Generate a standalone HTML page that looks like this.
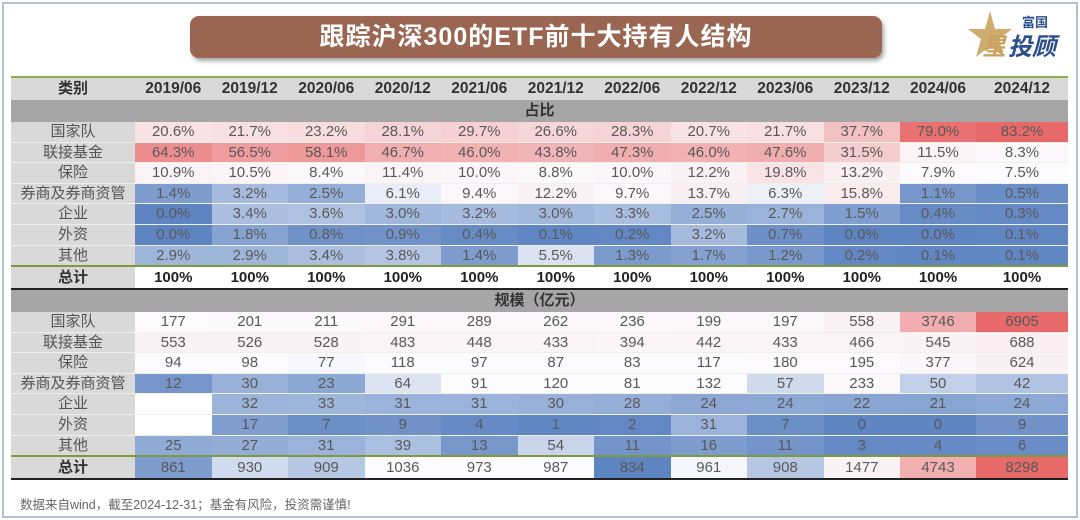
<!DOCTYPE html>
<html><head><meta charset="utf-8">
<style>
html,body{margin:0;padding:0;background:#fff;}
body{width:1080px;height:520px;position:relative;overflow:hidden;font-family:"Liberation Sans","Noto Sans CJK SC",sans-serif;}
#frame{position:absolute;left:2px;top:2px;width:1072px;height:512px;border:2px solid #b3c0d3;}
#title{position:absolute;left:190px;top:16px;width:692px;height:42px;background:#9a6651;border-radius:9px;box-shadow:2px 3px 4px rgba(0,0,0,0.35);color:#fff;font-weight:bold;font-size:25px;line-height:42px;text-align:center;letter-spacing:1px;}
.c{position:absolute;box-sizing:border-box;text-align:center;color:#595959;font-size:15px;white-space:nowrap;}
#footer{position:absolute;left:20px;top:494px;font-size:12.5px;color:#666;}
</style></head>
<body>
<div id="frame"></div>
<div id="title">跟踪沪深300的ETF前十大持有人结构</div>
<svg style="position:absolute;left:960px;top:8px" width="115" height="52">
  <polygon points="30,3 35,21 52,21 39,31 44,49 30,38 16,49 21,31 8,21 25,21" fill="#c9a25e" opacity="0.9"/>
  <text x="62" y="19" font-size="13" font-weight="bold" fill="#2b4f8e" font-family="Liberation Sans, Noto Sans CJK SC, sans-serif">富国</text>
  <text x="22" y="47" font-size="24" font-weight="bold" font-style="italic" fill="#c9a25e" font-family="Liberation Sans, Noto Sans CJK SC, sans-serif">星</text>
  <text x="48" y="47" font-size="24" font-weight="bold" font-style="italic" fill="#2b4f8e" font-family="Liberation Sans, Noto Sans CJK SC, sans-serif">投顾</text>
</svg>
<div id="tbl"></div>
<div id="footer">数据来自wind，截至2024-12-31；基金有风险，投资需谨慎!</div>
<script>
const periods=["2019/06","2019/12","2020/06","2020/12","2021/06","2021/12","2022/06","2022/12","2023/06","2023/12","2024/06","2024/12"];
const categories=["国家队","联接基金","保险","券商及券商资管","企业","外资","其他"];
const shareNational=[20.6,21.7,23.2,28.1,29.7,26.6,28.3,20.7,21.7,37.7,79.0,83.2];
const shareLinked=[64.3,56.5,58.1,46.7,46.0,43.8,47.3,46.0,47.6,31.5,11.5,8.3];
const shareInsurance=[10.9,10.5,8.4,11.4,10.0,8.8,10.0,12.2,19.8,13.2,7.9,7.5];
const shareBroker=[1.4,3.2,2.5,6.1,9.4,12.2,9.7,13.7,6.3,15.8,1.1,0.5];
const shareCorp=[0.0,3.4,3.6,3.0,3.2,3.0,3.3,2.5,2.7,1.5,0.4,0.3];
const shareForeign=[0.0,1.8,0.8,0.9,0.4,0.1,0.2,3.2,0.7,0.0,0.0,0.1];
const shareOther=[2.9,2.9,3.4,3.8,1.4,5.5,1.3,1.7,1.2,0.2,0.1,0.1];
const sizeNational=[177,201,211,291,289,262,236,199,197,558,3746,6905];
const sizeLinked=[553,526,528,483,448,433,394,442,433,466,545,688];
const sizeInsurance=[94,98,77,118,97,87,83,117,180,195,377,624];
const sizeBroker=[12,30,23,64,91,120,81,132,57,233,50,42];
const sizeCorp=[null,32,33,31,31,30,28,24,24,22,21,24];
const sizeForeign=[null,17,7,9,4,1,2,31,7,0,0,9];
const sizeOther=[25,27,31,39,13,54,11,16,11,3,4,6];
const sizeTotal=[861,930,909,1036,973,987,834,961,908,1477,4743,8298];

const shareRows=[shareNational,shareLinked,shareInsurance,shareBroker,shareCorp,shareForeign,shareOther];
const sizeRows=[sizeNational,sizeLinked,sizeInsurance,sizeBroker,sizeCorp,sizeForeign,sizeOther];

const T=document.getElementById('tbl');
const colX=[];for(let i=0;i<10;i++)colX.push(135+i*76.5);colX.push(900,976);
const colW=i=>i<10?76.5:(i==10?76:92);
const L=11,R=1068;
function mix(a,b,t){return 'rgb('+a.map((v,i)=>Math.round(v+(b[i]-v)*t)).join(',')+')';}
const BLUE=[94,132,194],WHITE=[252,252,255],RED=[232,105,106];
function scale(v,min,mid,max){
  if(v==null)return '#fff';
  if(v<=mid)return mix(BLUE,WHITE,Math.max(0,(v-min)/(mid-min)));
  return mix(WHITE,RED,Math.min(1,(v-mid)/(max-mid)));
}
function box(x,y,w,h,bg,txt,name,extra){
  const d=document.createElement('div');d.className='c';
  d.style.left=x+'px';d.style.top=y+'px';d.style.width=w+'px';d.style.height=h+'px';
  d.style.lineHeight=h+'px';d.style.background=bg;
  if(extra)Object.assign(d.style,extra);
  d.textContent=txt;
  
  
  T.appendChild(d);return d;
}
box(L,76,R-L,2,'#8faa4d','','header-top-rule');
box(L,78,135-L,22,'#d9d9d9','类别','header-category',{fontWeight:'bold',color:'#333',fontSize:'15px'});
periods.forEach((p,i)=>box(colX[i],78,colW(i),22,'#d9d9d9',p,'header-'+p.replace('/','-'),{fontWeight:'bold',color:'#333',fontSize:'15.5px'}));
function block(y0,title,rows,fmt,min,mid,max,totals,totalFmt,prefix){
  box(L,y0,R-L,22,'#a6a6a6',title,prefix+'-band',{fontWeight:'bold',color:'#333',fontSize:'15px'});
  const rh=20.6;
  rows.forEach((row,r)=>{
    const y=y0+22+r*rh;
    box(L,y,135-L,rh-1,'#d9d9d9',categories[r],prefix+'-label-'+r,{fontSize:'15px',color:'#555'});
    row.forEach((v,i)=>box(colX[i],y,colW(i),rh-1,scale(v,min,mid,max),v==null?'':fmt(v),prefix+'-cell-'+r+'-'+i,{fontSize:'15px'}));
    box(L,y+rh-1,R-L,1,'#eef1e4','',prefix+'-row-sep-'+r);
  });
  const yt=y0+22+7*rh;
  box(L,yt-1,R-L,2,'#7f9a3d','',prefix+'-total-rule');
  box(L,yt+1,135-L,21,'#d9d9d9','总计',prefix+'-total-label',{fontWeight:'bold',color:'#333',fontSize:'15px'});
  totals.forEach((v,i)=>{
    const bg=totalFmt?scale(v,834,967,8298):'#fff';
    box(colX[i],yt+1,colW(i),21,bg,totalFmt?String(v):'100%',prefix+'-total-'+i,totalFmt?{fontSize:'15px'}:{fontWeight:'bold',color:'#222',fontSize:'15px'});
  });
  box(L,yt+22,R-L,2,'#222','',prefix+'-bottom-rule');
}
block(100,'占比',shareRows,v=>v.toFixed(1)+'%',0,7,83.2,periods.map(()=>100),false,'share');
block(290,'规模（亿元）',sizeRows,v=>String(v),0,80,6905,sizeTotal,true,'size');
</script>
</body></html>
